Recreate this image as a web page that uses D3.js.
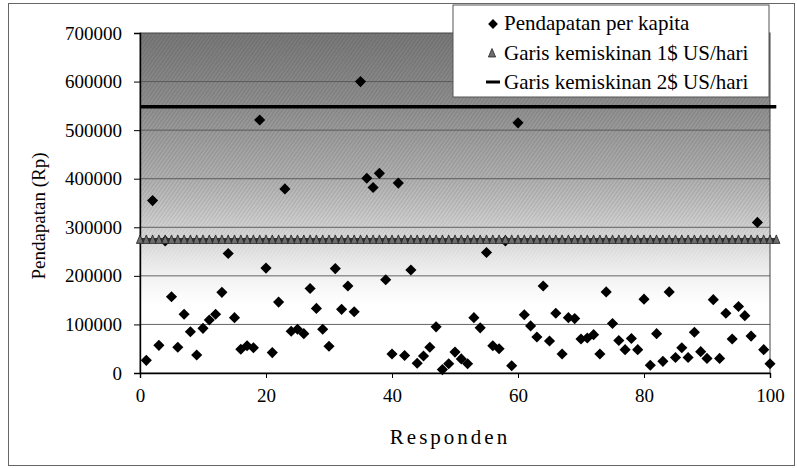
<!DOCTYPE html>
<html>
<head>
<meta charset="utf-8">
<script src="https://cdn.jsdelivr.net/npm/d3@7"></script>
<style>
  body { margin: 0; background: #fff; }
  svg { display: block; }
  svg text { font-family: "Liberation Serif", "DejaVu Serif", "Noto Serif", serif; }
</style>
</head>
<body>
<svg id="chart" width="797" height="468"></svg>
<script>
// respondents 1..100 and their per-capita income (Rp)
const responden = d3.range(1, 101);
const pendapatan = [
  26000, 355000, 57000, 272000, 157000, 53000, 121000, 85000, 37000, 92000,
  109000, 121000, 166000, 246000, 114000, 49000, 56000, 52000, 521000, 216000,
  42000, 146000, 379000, 86000, 90000, 81000, 174000, 133000, 90000, 55000,
  215000, 131000, 179000, 126000, 600000, 401000, 382000, 411000, 192000, 39000,
  391000, 36000, 212000, 20000, 35000, 53000, 95000, 7000, 19000, 43000,
  29000, 19000, 114000, 93000, 248000, 56000, 50000, 272000, 15000, 515000,
  120000, 97000, 74000, 179000, 66000, 123000, 39000, 114000, 112000, 70000,
  72000, 79000, 39000, 167000, 102000, 67000, 48000, 71000, 48000, 152000,
  16000, 81000, 24000, 167000, 32000, 52000, 32000, 84000, 44000, 30000,
  151000, 30000, 123000, 70000, 137000, 118000, 76000, 310000, 48000, 19000
];
// poverty lines (constant levels), drawn across respondent 0..101
const garisX = d3.range(0, 102);
const garis1 = 274000;   // 1$ US/hari
const garis2 = 548000;   // 2$ US/hari

const yTicks = [0, 100000, 200000, 300000, 400000, 500000, 600000, 700000];
const xTicks = [0, 20, 40, 60, 80, 100];
const legendLabels = ["Pendapatan per kapita", "Garis kemiskinan 1$ US/hari", "Garis kemiskinan 2$ US/hari"];

const svg = d3.select("#chart");
const x = d3.scaleLinear().domain([0, 100]).range([140, 770]);
const y = d3.scaleLinear().domain([0, 700000]).range([373, 33]);

// outer chart border
svg.append("rect")
  .attr("x", 8.5).attr("y", 3.5).attr("width", 786).attr("height", 462)
  .attr("fill", "#fff").attr("stroke", "#666");

// plot area gradient + hatch texture
const defs = svg.append("defs");
const grad = defs.append("linearGradient").attr("id", "bg")
  .attr("gradientUnits", "userSpaceOnUse")
  .attr("x1", 0).attr("x2", 0).attr("y1", y(700000)).attr("y2", y(0));
[[700000, "#787878"], [550000, "#8f8f8f"], [400000, "#b0b0b0"], [300000, "#d0d0d0"],
 [240000, "#e6e6e6"], [180000, "#f6f6f6"], [140000, "#ffffff"], [0, "#ffffff"]]
  .forEach(([v, c]) => grad.append("stop")
    .attr("offset", (y(v) - y(700000)) / (y(0) - y(700000)))
    .attr("stop-color", c));

const hatch = defs.append("pattern").attr("id", "hatch")
  .attr("patternUnits", "userSpaceOnUse").attr("width", 3).attr("height", 3)
  .attr("patternTransform", "rotate(35)");
hatch.append("line").attr("x1", 0).attr("y1", 0).attr("x2", 0).attr("y2", 3)
  .attr("stroke", "#000").attr("stroke-width", 1).attr("stroke-opacity", 0.2);

const maskGrad = defs.append("linearGradient").attr("id", "maskGrad")
  .attr("gradientUnits", "userSpaceOnUse")
  .attr("x1", 0).attr("x2", 0).attr("y1", y(700000)).attr("y2", y(0));
maskGrad.append("stop").attr("offset", 0).attr("stop-color", "#fff");
maskGrad.append("stop").attr("offset", (y(350000) - y(700000)) / (y(0) - y(700000))).attr("stop-color", "#fff");
maskGrad.append("stop").attr("offset", (y(200000) - y(700000)) / (y(0) - y(700000))).attr("stop-color", "#000");
defs.append("mask").attr("id", "hatchMask")
  .append("rect").attr("x", x(0)).attr("y", y(700000))
  .attr("width", x(100) - x(0)).attr("height", y(0) - y(700000))
  .attr("fill", "url(#maskGrad)");

svg.append("rect")
  .attr("x", x(0)).attr("y", y(700000))
  .attr("width", x(100) - x(0)).attr("height", y(0) - y(700000))
  .attr("fill", "url(#bg)");
svg.append("rect")
  .attr("x", x(0)).attr("y", y(700000))
  .attr("width", x(100) - x(0)).attr("height", y(0) - y(700000))
  .attr("fill", "url(#hatch)").attr("mask", "url(#hatchMask)");

// gridlines
svg.append("g").selectAll("line")
  .data(yTicks.filter(d => d > 0 && d < 700000))
  .enter().append("line")
  .attr("x1", x(0)).attr("x2", x(100))
  .attr("y1", d => y(d)).attr("y2", d => y(d))
  .attr("stroke", "#555").attr("stroke-width", 0.9);

// plot border
svg.append("rect")
  .attr("x", x(0)).attr("y", y(700000))
  .attr("width", x(100) - x(0)).attr("height", y(0) - y(700000))
  .attr("fill", "none").attr("stroke", "#444").attr("stroke-width", 1);

// axes
const yAxis = svg.append("g").attr("transform", `translate(${x(0)},0)`)
  .call(d3.axisLeft(y).tickValues(yTicks).tickFormat(d3.format("d")).tickSize(6).tickPadding(12));
const xAxis = svg.append("g").attr("transform", `translate(0,${y(0)})`)
  .call(d3.axisBottom(x).tickValues(xTicks).tickFormat(d3.format("d")).tickSize(5).tickPadding(11));
[yAxis, xAxis].forEach(a => {
  a.attr("font-family", null).attr("font-size", null);
  a.select(".domain").attr("stroke", "#000").attr("stroke-width", 1.4);
  a.selectAll(".tick line").attr("stroke", "#000");
  a.selectAll("text").attr("font-size", 19).attr("fill", "#000");
});

// scatter: pendapatan per kapita
const diamond = d3.symbol().type(d3.symbolSquare).size(62);
svg.append("g").selectAll("path")
  .data(pendapatan)
  .enter().append("path")
  .attr("d", diamond)
  .attr("transform", (d, i) => `translate(${x(responden[i])},${y(d)}) rotate(45)`)
  .attr("fill", "#000");

// garis kemiskinan 1$ (line with triangle markers)
svg.append("path")
  .datum(garisX)
  .attr("d", d3.line().x(d => x(d)).y(() => y(garis1)))
  .attr("fill", "none").attr("stroke", "#333").attr("stroke-width", 4);
const tri = "M0,-5L3.6,3.5L-3.6,3.5Z";
svg.append("g").selectAll("path")
  .data(garisX)
  .enter().append("path")
  .attr("d", tri)
  .attr("transform", d => `translate(${x(d)},${y(garis1)})`)
  .attr("fill", "#6e6e6e").attr("stroke", "#222").attr("stroke-width", 0.8);

// garis kemiskinan 2$
svg.append("path")
  .datum(garisX)
  .attr("d", d3.line().x(d => x(d)).y(() => y(garis2)))
  .attr("fill", "none").attr("stroke", "#000").attr("stroke-width", 3.5);

// axis titles
svg.append("text")
  .attr("transform", "translate(45,216) rotate(-90)")
  .attr("text-anchor", "middle").attr("font-size", 19)
  .text("Pendapatan (Rp)");
svg.append("text")
  .attr("x", 450).attr("y", 444)
  .attr("text-anchor", "middle").attr("font-size", 21).attr("letter-spacing", 3)
  .text("Responden");

// legend
const lg = svg.append("g");
lg.append("rect").attr("x", 453).attr("y", 5).attr("width", 316).attr("height", 92)
  .attr("fill", "#fff").attr("stroke", "#555");
const rowY = [30, 59.5, 89];
lg.append("path").attr("d", d3.symbol().type(d3.symbolSquare).size(48))
  .attr("transform", `translate(493,${rowY[0] - 6}) rotate(45)`).attr("fill", "#000");
lg.append("path").attr("d", tri)
  .attr("transform", `translate(492,${rowY[1] - 6})`)
  .attr("fill", "#6e6e6e").attr("stroke", "#222").attr("stroke-width", 0.8);
lg.append("line").attr("x1", 486).attr("x2", 500)
  .attr("y1", rowY[2] - 7).attr("y2", rowY[2] - 7)
  .attr("stroke", "#000").attr("stroke-width", 3);
lg.selectAll("text.lbl")
  .data(legendLabels)
  .enter().append("text")
  .attr("class", "lbl")
  .attr("x", 504).attr("y", (d, i) => rowY[i])
  .attr("font-size", 21)
  .text(d => d);
</script>
</body>
</html>
